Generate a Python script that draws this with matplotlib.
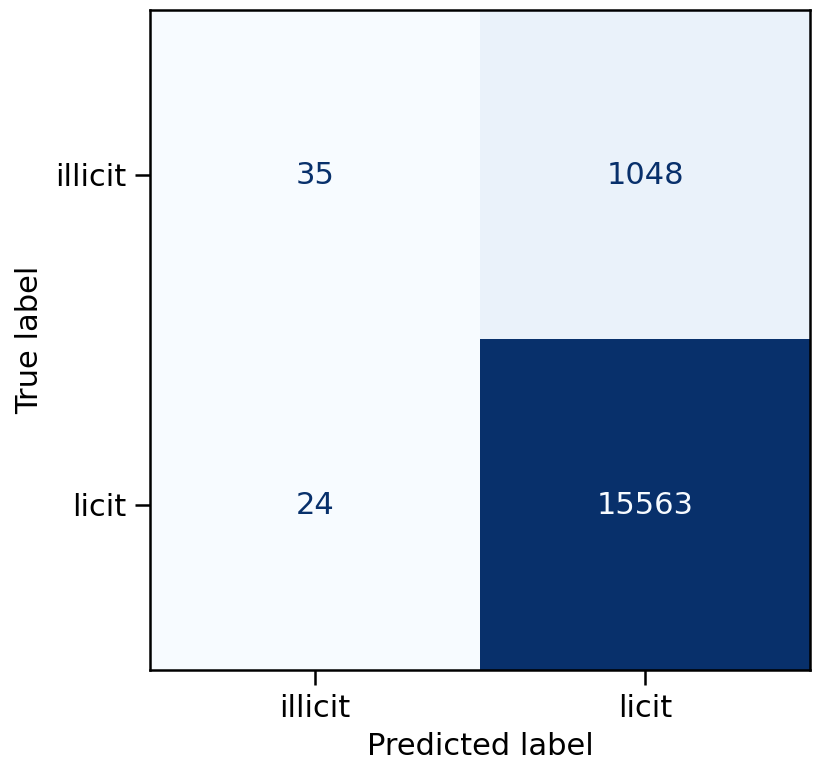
import numpy as np
import matplotlib
matplotlib.use('Agg')
import matplotlib.pyplot as plt

# CONFUSION MATRIX DATA
class_labels = ['illicit', 'licit']
cm = np.array([[35, 1048],
               [24, 15563]])

fig = plt.figure(figsize=(8.3, 7.68), dpi=100)
ax = fig.add_axes([150 / 830, 1 - 670 / 768, 660 / 830, 660 / 768])

cmap = plt.get_cmap('Blues')
im = ax.imshow(cm, cmap=cmap, interpolation='nearest')

# text colour follows sklearn's rule: light text on dark cells
thresh = (cm.max() + cm.min()) / 2.0
cmap_min, cmap_max = cmap(0), cmap(256)
for i in range(cm.shape[0]):
    for j in range(cm.shape[1]):
        color = cmap_min if cm[i, j] > thresh else cmap_max
        ax.text(j, i, f'{cm[i, j]}', ha='center', va='center',
                color=color, fontsize=22)

ax.set_xticks(range(len(class_labels)))
ax.set_yticks(range(len(class_labels)))
ax.set_xticklabels(class_labels, fontsize=22)
ax.set_yticklabels(class_labels, fontsize=22)
ax.set_xlabel('Predicted label', fontsize=22, labelpad=7)
ax.set_ylabel('True label', fontsize=22, labelpad=8)
ax.tick_params(length=11, width=1.8, pad=6)
for s in ax.spines.values():
    s.set_linewidth(1.8)

fig.savefig('out.png', dpi=100)
